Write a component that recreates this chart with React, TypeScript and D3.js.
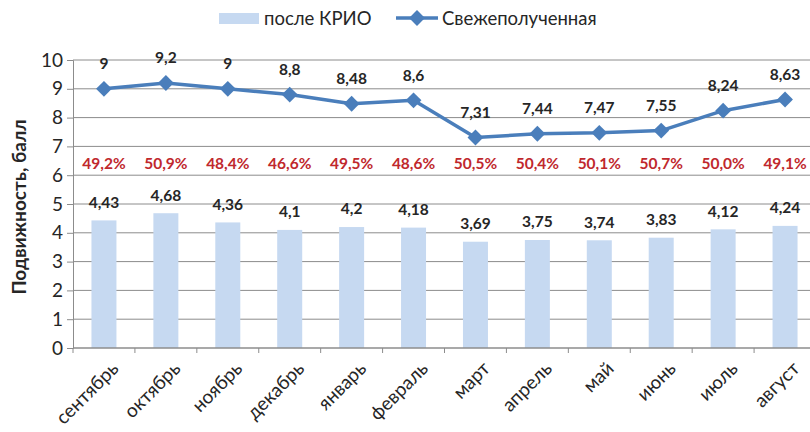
import { useEffect, useRef } from "react"
import * as d3 from "d3"

const months = ["сентябрь", "октябрь", "ноябрь", "декабрь", "январь", "февраль", "март", "апрель", "май", "июнь", "июль", "август"]
const afterCryo = [4.43, 4.68, 4.36, 4.1, 4.2, 4.18, 3.69, 3.75, 3.74, 3.83, 4.12, 4.24]
const fresh = [9, 9.2, 9, 8.8, 8.48, 8.6, 7.31, 7.44, 7.47, 7.55, 8.24, 8.63]
const shares = ["49,2%", "50,9%", "48,4%", "46,6%", "49,5%", "48,6%", "50,5%", "50,4%", "50,1%", "50,7%", "50,0%", "49,1%"]
const yTicks = [0, 1, 2, 3, 4, 5, 6, 7, 8, 9, 10]

const FONT = "Lato, 'Open Sans', sans-serif"
const fmt = (v: number) => String(v).replace(".", ",")

export default function App() {
  const svgRef = useRef<SVGSVGElement>(null)

  useEffect(() => {
    const svgEl = svgRef.current
    if (!svgEl) return
    const svg = d3.select(svgEl)
    svg.selectAll("*").remove()

    const W = 810, H = 432
    const left = 73, right = 816, top = 60, bottom = 348

    const x = d3.scaleBand<string>().domain(months).range([left, right]).paddingInner(0).paddingOuter(0)
    const y = d3.scaleLinear().domain([0, 10]).range([bottom, top])
    const cx = (m: string) => (x(m) as number) + x.bandwidth() / 2
    const barW = 25

    // gridlines
    svg.append("g").selectAll("line").data(yTicks.filter(t => t > 0)).join("line")
      .attr("x1", left).attr("x2", right)
      .attr("y1", d => y(d)).attr("y2", d => y(d))
      .attr("stroke", "#8c8c8c").attr("stroke-width", 1)

    // bars
    svg.append("g").selectAll("rect").data(afterCryo).join("rect")
      .attr("x", (_, i) => cx(months[i]) - barW / 2)
      .attr("width", barW)
      .attr("y", d => y(d))
      .attr("height", d => bottom - y(d))
      .attr("fill", "#c6d9f1")

    // axes
    const yAxis = svg.append("g").attr("transform", `translate(${left},0)`)
      .call(d3.axisLeft(y).tickValues(yTicks).tickSize(6).tickFormat(d => String(d)))
    yAxis.select(".domain").attr("stroke", "#8c8c8c")
    yAxis.selectAll(".tick line").attr("stroke", "#8c8c8c")
    yAxis.selectAll(".tick text").attr("font-family", FONT).attr("font-size", 19).attr("fill", "#262626").attr("x", -10)

    const xg = svg.append("g")
    xg.append("line").attr("x1", left).attr("x2", right).attr("y1", bottom).attr("y2", bottom)
      .attr("stroke", "#8c8c8c").attr("stroke-width", 1.5)
    xg.selectAll("line.tk").data(months).join("line").attr("class", "tk")
      .attr("x1", d => x(d) as number).attr("x2", d => x(d) as number)
      .attr("y1", bottom).attr("y2", bottom + 5)
      .attr("stroke", "#8c8c8c")
    xg.selectAll("text").data(months).join("text")
      .attr("transform", d => `translate(${cx(d) + 11},${bottom + 17}) rotate(-45)`)
      .attr("text-anchor", "end")
      .attr("dy", "0.35em")
      .attr("font-family", FONT).attr("font-size", 19).attr("fill", "#262626")
      .text(d => d)

    // y title
    svg.append("text")
      .attr("transform", `translate(19,${(top + bottom) / 2 + 3}) rotate(-90)`)
      .attr("text-anchor", "middle")
      .attr("dy", "0.35em")
      .attr("font-family", FONT).attr("font-size", 19).attr("font-weight", 700).attr("fill", "#262626")
      .text("Подвижность, балл")

    // line
    const line = d3.line<number>().x((_, i) => cx(months[i])).y(d => y(d))
    svg.append("path").datum(fresh).attr("d", line)
      .attr("fill", "none").attr("stroke", "#4a7ebb").attr("stroke-width", 3.5).attr("stroke-linejoin", "round")
    const diamond = d3.symbol().type(d3.symbolDiamond2).size(160)
    svg.append("g").selectAll("path").data(fresh).join("path")
      .attr("transform", (d, i) => `translate(${cx(months[i])},${y(d)})`)
      .attr("d", diamond() as string)
      .attr("fill", "#4a7ebb")

    // labels
    const lab = svg.append("g").attr("font-family", FONT).attr("font-size", 15.5).attr("font-weight", 700).attr("text-anchor", "middle")
    lab.selectAll("text.fv").data(fresh).join("text").attr("class", "fv")
      .attr("x", (_, i) => cx(months[i])).attr("y", d => y(d) - 25).attr("dy", "0.35em")
      .attr("fill", "#262626").text(d => fmt(d))
    lab.selectAll("text.bv").data(afterCryo).join("text").attr("class", "bv")
      .attr("x", (_, i) => cx(months[i])).attr("y", d => y(d) - 18).attr("dy", "0.35em")
      .attr("fill", "#262626").text(d => fmt(d))
    lab.selectAll("text.pv").data(shares).join("text").attr("class", "pv")
      .attr("x", (_, i) => cx(months[i])).attr("y", y(6.4)).attr("dy", "0.35em")
      .attr("fill", "#c0282d").text(d => d)

    // legend
    const lg = svg.append("g").attr("font-family", FONT).attr("font-size", 18.5).attr("fill", "#262626")
    lg.append("rect").attr("x", 219).attr("y", 13).attr("width", 40).attr("height", 11).attr("fill", "#c6d9f1")
    lg.append("text").attr("x", 264).attr("y", 19).attr("dy", "0.35em").text("после КРИО")
    lg.append("line").attr("x1", 396).attr("x2", 438).attr("y1", 18).attr("y2", 18)
      .attr("stroke", "#4a7ebb").attr("stroke-width", 3.5)
    lg.append("path").attr("transform", "translate(417,18)").attr("d", diamond() as string).attr("fill", "#4a7ebb")
    lg.append("text").attr("x", 442).attr("y", 19).attr("dy", "0.35em").text("Свежеполученная")

    svg.attr("viewBox", `0 0 ${W} ${H}`)
  }, [])

  return (
    <svg ref={svgRef} width={810} height={432}
      style={{ position: "absolute", left: 0, top: 0, background: "#fff" }} />
  )
}
